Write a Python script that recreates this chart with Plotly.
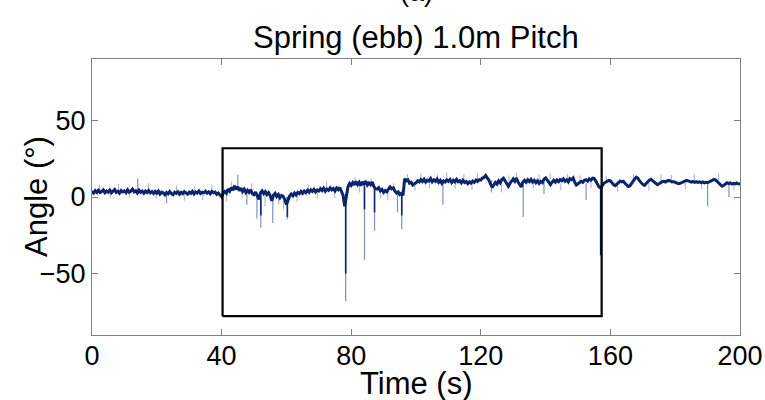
import plotly.graph_objects as go

# Pitch angle record, sampled every 0.5 s from 0 to 200 s
t_start, t_step = 0.0, 0.5
angle = [
    3.8, 2.6, 4.1, 3.0, 4.4, 2.9, 3.6, 4.6, 2.8, 3.9, 3.1, 4.5, 2.7, 3.8, 4.9, 3.0, 3.7, 2.5, 4.2, 3.3,
    4.0, 2.8, 4.7, 3.2, 3.9, 5.2, 3.4, 4.1, 2.6, 4.4, 3.0, 3.8, 2.4, 3.9, 2.9, 4.2, 2.7, 3.5, 2.3, 3.7,
    2.5, 3.9, 1.9, 3.2, 2.6, 1.4, 3.0, 2.1, 3.6, 2.2, 1.5, 3.1, 2.4, 3.4, 1.8, 3.0, 2.2, 3.5, 2.7, 1.9,
    3.2, 2.4, 3.7, 2.0, 3.3, 2.6, 3.9, 2.3, 3.1, 2.7, 3.8, 2.5, 3.4, 2.1, 3.6, 2.8, 3.2, 1.7, 2.6, 1.0,
    0.2, 2.4, 3.6, 2.5, 5.2, 3.8, 6.1, 4.4, 7.3, 5.0, 6.6, 4.2, 5.8, 3.6, 5.1, 2.9, 4.4, 3.0, 4.6, 2.2,
    1.5, 3.2, 0.8, -1.5, 2.6, 4.0, 2.2, 3.5, 1.6, 2.8, 0.9, -2.5, 1.2, 2.4, 0.3, 1.6, -0.5, 1.0, 0.4, -1.6,
    -5.0, -2.0, 0.6, 1.9, 0.8, 2.6, 1.3, 3.0, 2.2, 3.6, 2.4, 3.9, 2.8, 4.4, 3.1, 4.7, 3.6, 5.0, 3.3, 4.6,
    3.9, 5.4, 4.2, 5.8, 3.8, 5.2, 4.4, 6.0, 4.6, 5.5, 4.0, 5.9, 4.8, 6.2, 3.5, 1.0, -6.0, 2.0, 6.5, 8.8,
    7.6, 9.4, 7.9, 10.2, 8.1, 9.6, 7.4, 9.9, 8.5, 10.4, 7.8, 9.1, 8.0, 9.7, 6.8, 5.4, 5.2, 6.1, 4.0, 5.0,
    3.0, 4.2, 3.4, 5.2, 6.6, 5.4, 6.0, 3.8, 2.6, 3.3, 1.6, 2.4, 1.0, 12.0, 10.6, 11.2, 9.0, 9.6, 7.8, 8.6,
    9.2, 10.6, 9.8, 11.3, 10.1, 11.6, 9.7, 11.0, 10.4, 12.0, 9.9, 11.2, 10.3, 11.7, 9.6, 10.8, 8.9, 10.5, 9.8, 11.1,
    10.2, 11.4, 9.5, 10.9, 9.9, 11.5, 10.0, 10.6, 9.2, 10.8, 9.4, 10.1, 8.7, 9.9, 9.0, 10.4, 9.6, 11.0, 10.1, 11.3,
    11.0, 12.4, 12.8, 14.0, 12.5, 11.0, 8.6, 6.2, 7.8, 9.5, 8.4, 10.6, 9.2, 11.4, 12.2, 10.6, 8.5, 7.0, 8.8, 10.6,
    11.8, 10.2, 12.3, 9.8, 8.4, 6.5, 9.7, 10.9, 9.6, 11.2, 10.0, 11.5, 9.8, 10.9, 9.3, 10.6, 8.9, 10.2, 9.4, 11.6,
    12.4, 10.8, 9.2, 8.0, 9.6, 10.9, 9.7, 11.1, 10.0, 11.4, 10.6, 11.8, 10.3, 11.2, 9.8, 12.0, 11.3, 12.4, 9.6, 7.8,
    8.6, 9.4, 10.2, 9.6, 10.9, 11.3, 10.4, 11.8, 11.0, 12.3, 12.0, 10.4, 8.7, 6.5, 6.0, 7.8, 8.9, 9.6, 10.2, 10.8,
    10.5, 9.2, 8.0, 7.4, 8.6, 9.5, 10.4, 9.8, 10.2, 9.0, 8.1, 6.8, 7.2, 9.0, 10.6, 11.8, 12.9, 12.2, 10.5, 9.2,
    8.2, 7.6, 8.8, 10.2, 11.0, 11.5, 10.6, 9.4, 8.5, 8.0, 8.6, 9.4, 10.0, 10.2, 9.8, 10.5, 10.8, 10.4, 9.8, 10.1,
    9.6, 9.0, 8.7, 8.9, 9.5, 9.9, 10.4, 10.8, 10.5, 10.1, 9.7, 10.2, 9.6, 10.0, 9.5, 9.9, 9.4, 9.8, 9.2, 9.6,
    9.3, 9.9, 10.4, 10.9, 11.5, 11.0, 10.2, 9.0, 7.9, 7.0, 7.6, 8.5, 9.3, 8.8, 9.2, 8.4, 8.9, 8.6, 9.1, 8.5,
    8.7,
]
time = [t_start + t_step * i for i in range(len(angle))]

# Short transient excursions (time, level before the excursion, peak value)
spike_time = [14.1, 23.0, 45.0, 47.8, 50.9, 52.1, 55.8, 60.3, 78.3, 84.1, 87.2,
              94.3, 95.6, 108.3, 123.3, 133.1, 139.5, 152.5, 157.0, 190.0, 196.6]
spike_base = [4.0, 2.0, 6.0, 4.0, 2.0, 1.0, 2.0, -2.0, 2.0, 7.0, 6.0,
              2.0, 2.0, 10.0, 11.0, 8.0, 10.0, 9.0, 6.0, 9.0, 8.0]
spike_peak = [12.0, -4.0, 14.5, -5.0, -14.0, -20.0, -17.0, -14.5, -68.0, -41.0, -22.0,
              -10.0, -21.0, -5.0, 3.0, -13.0, 2.0, -2.0, -38.0, -6.0, 0.0]

# Portion of the larger excursions where the trace is dense
dense_time = [52.1, 60.3, 78.3, 84.1, 87.2, 95.6, 157.0]
dense_base = [1.0, 0.0, 2.0, 7.0, 6.0, 2.0, 6.0]
dense_peak = [-12.0, -13.0, -50.0, -8.0, -10.0, -12.0, -38.0]

# Small high-frequency flickers around the mean level
flick_time = [2.3, 5.6, 8.2, 11.5, 17.4, 19.8, 26.1, 28.5, 31.7, 34.2, 37.0, 41.5, 43.1,
              46.3, 49.2, 53.4, 57.6, 59.1, 63.3, 66.8, 69.5, 72.4, 74.9, 81.2, 82.6,
              86.1, 89.0, 91.3, 93.1, 97.4, 99.7, 101.5, 104.2, 106.6, 109.5, 112.1,
              114.8, 117.3, 119.0, 126.4, 128.7, 131.0, 136.2, 138.0, 141.4, 144.7,
              146.8, 150.6, 154.0, 158.7, 162.2, 167.1, 171.9, 175.6, 178.8, 183.1,
              185.9, 188.2, 193.4, 198.1]
flick_base = [4, 3, 4, 3, 4, 3, 2, 2, 3, 2, 3, 3, 5,
              5, 3, 2, 1, 0, 2, 3, 4, 5, 4, 8, 8,
              7, 5, 4, 5, 10, 8, 10, 11, 10, 10, 10,
              10, 10, 10, 8, 9, 10, 10, 10, 10, 9,
              10, 9, 11, 9, 8, 10, 9, 10, 10, 9,
              10, 10, 11, 9]
flick_peak = [8.0, -1.0, 8.5, -0.5, 9.0, -1.0, 7.5, -2.5, 7.0, -2.0, 7.5, -3.0, 10.0,
              -1.0, 9.0, -6.0, -5.0, -8.0, -3.0, 8.0, -1.0, 10.0, -0.5, 13.0, 3.0,
              12.0, -1.0, -2.0, 9.0, 15.0, 4.0, 15.5, 6.0, 15.0, 16.0, 5.5,
              15.0, 5.0, 15.5, 3.0, 14.0, 16.0, 5.5, 15.0, 15.5, 4.5,
              15.0, 14.0, 6.0, 14.0, 3.5, 15.0, 4.0, 15.0, 14.5, 5.0,
              15.0, 5.0, 15.5, 4.5]

# Highlighted interval
box_t = [40.3, 157.3]
box_angle = [-77.7, 31.8]

x_ticks = [0, 40, 80, 120, 160, 200]
y_ticks = [-50, 0, 50]

FONT = "Liberation Sans, Arial, Helvetica, sans-serif"
NAVY = "rgb(12,36,110)"
HAIR = "rgba(70,100,170,0.7)"
AXIS = "rgb(128,128,128)"


def segments(ts, base, peak):
    xs, ys = [], []
    for t, b, p in zip(ts, base, peak):
        xs += [t, t, None]
        ys += [b, p, None]
    return xs, ys


fig = go.Figure()

for ts, b, p, col, w in [
    (flick_time, flick_base, flick_peak, "rgba(80,110,180,0.55)", 1.0),
    (spike_time, spike_base, spike_peak, HAIR, 1.2),
]:
    xs, ys = segments(ts, b, p)
    fig.add_trace(go.Scatter(x=xs, y=ys, mode="lines",
                             line=dict(color=col, width=w), hoverinfo="skip"))

fig.add_trace(go.Scatter(x=time, y=angle, mode="lines",
                         line=dict(color=NAVY, width=3)))

xs, ys = segments(dense_time, dense_base, dense_peak)
fig.add_trace(go.Scatter(x=xs, y=ys, mode="lines",
                         line=dict(color=NAVY, width=1.6), hoverinfo="skip"))

bx = [box_t[0], box_t[1], box_t[1], box_t[0], box_t[0]]
by = [box_angle[0], box_angle[0], box_angle[1], box_angle[1], box_angle[0]]
fig.add_trace(go.Scatter(x=bx, y=by, mode="lines",
                         line=dict(color="black", width=2.2), hoverinfo="skip"))

axis_common = dict(
    showline=True, linecolor=AXIS, linewidth=1, mirror="ticks",
    ticks="inside", ticklen=6, tickcolor=AXIS, tickwidth=1,
    showgrid=False, zeroline=False, ticklabeloverflow="allow", automargin=False,
    tickfont=dict(family=FONT, size=27, color="black"),
)

fig.update_layout(
    width=765, height=400,
    margin=dict(l=92, r=25, t=59, b=65),
    paper_bgcolor="white", plot_bgcolor="white",
    showlegend=False,
    font=dict(family=FONT, color="black"),
    xaxis=dict(range=[0, 200], tickvals=x_ticks, ticklabelstandoff=-3, **axis_common),
    yaxis=dict(range=[-90, 90], tickvals=y_ticks, **axis_common),
    annotations=[
        dict(text="(a)", xref="paper", yref="paper", x=0.5, y=1.0, yshift=50,
             yanchor="bottom", showarrow=False, font=dict(family=FONT, size=27)),
        dict(text="Spring (ebb) 1.0m Pitch", xref="paper", yref="paper", x=0.5, y=1.0,
             yshift=22, yanchor="middle", showarrow=False, font=dict(family=FONT, size=31)),
        dict(text="Time (s)", xref="paper", yref="paper", x=0.5, y=0.0, yshift=-48,
             yanchor="middle", showarrow=False, font=dict(family=FONT, size=31)),
        dict(text="Angle (°)", xref="paper", yref="paper", x=0.0, y=0.5, xshift=-56,
             textangle=-90, xanchor="center", showarrow=False, font=dict(family=FONT, size=31)),
    ],
)

fig.write_html("out.html")
